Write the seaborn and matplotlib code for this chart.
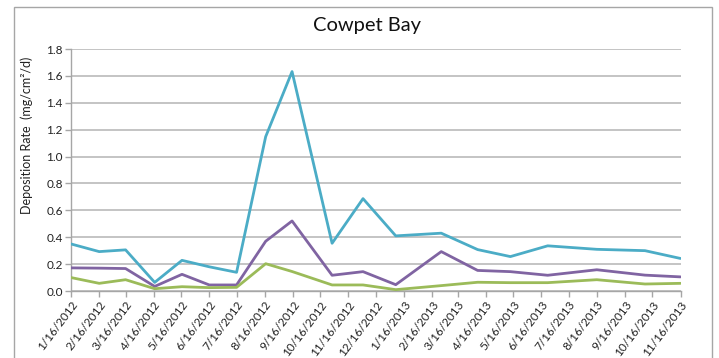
import matplotlib
matplotlib.use("Agg")
import matplotlib.pyplot as plt
from matplotlib.patches import Rectangle
import seaborn as sns
import pandas as pd

# ---- data ----
dates = ["2012-01-16", "2012-02-16", "2012-03-16", "2012-04-17", "2012-05-17",
         "2012-06-16", "2012-07-16", "2012-08-17", "2012-09-15", "2012-10-29",
         "2012-12-02", "2013-01-07", "2013-02-26", "2013-04-07", "2013-05-13",
         "2013-06-23", "2013-08-16", "2013-10-08", "2013-11-16"]
series_a = [0.35, 0.293, 0.306, 0.064, 0.228, 0.18, 0.139, 1.148, 1.632, 0.355,
            0.687, 0.41, 0.43, 0.308, 0.256, 0.336, 0.31, 0.30, 0.242]
series_b = [0.172, 0.170, 0.167, 0.034, 0.124, 0.045, 0.045, 0.37, 0.521, 0.117,
            0.144, 0.047, 0.293, 0.153, 0.144, 0.117, 0.158, 0.118, 0.105]
series_c = [0.10, 0.057, 0.084, 0.017, 0.032, 0.025, 0.027, 0.203, 0.145, 0.045,
            0.045, 0.01, 0.04, 0.065, 0.062, 0.062, 0.084, 0.052, 0.057]
series_names = ["A", "B", "C"]
colors = ["#4BACC6", "#8064A2", "#9BBB59"]
tick_dates = pd.date_range("2012-01-01", "2013-11-01", freq="MS") + pd.Timedelta(days=15)
title = "Cowpet Bay"
ylabel = "Deposition Rate  (mg/cm\u00b2/d)"
yticks = [0.0, 0.2, 0.4, 0.6, 0.8, 1.0, 1.2, 1.4, 1.6, 1.8]

rows = []
for name, vals in zip(series_names, [series_a, series_b, series_c]):
    for d, v in zip(dates, vals):
        rows.append({"date": pd.Timestamp(d), "value": v, "series": name})
df = pd.DataFrame(rows)

sns.set_style("white")
plt.rcParams["font.family"] = ["Lato", "DejaVu Sans"]

fig = plt.figure(figsize=(7.19, 3.58), dpi=100)
ax = fig.add_axes([71 / 719, 1 - 291 / 358, (680.5 - 71) / 719, (291 - 49) / 358])

sns.lineplot(data=df, x="date", y="value", hue="series", palette=colors,
             linewidth=2.0, ax=ax, legend=False, zorder=3)

ax.set_ylim(0, 1.8)
ax.set_yticks(yticks)
ax.set_yticklabels([f"{t:.1f}" for t in yticks], fontsize=8.5, color="#222222")
ax.set_xlim(pd.Timestamp("2012-01-16"), pd.Timestamp("2013-11-16"))
ax.set_xticks(tick_dates)
ax.set_xticklabels([f"{d.month}/{d.day}/{d.year}" for d in tick_dates],
                   rotation=53, ha="right", rotation_mode="anchor", fontsize=8.5,
                   color="#222222")
ax.set_xlabel("")
ax.set_ylabel("")

ax.grid(axis="y", color="#BFBFBF", linewidth=1.3, zorder=0)
ax.grid(axis="x", visible=False)
for s in ["top", "right"]:
    ax.spines[s].set_visible(False)
for s in ["left", "bottom"]:
    ax.spines[s].set_color("#A6A6A6")
    ax.spines[s].set_linewidth(1.0)
ax.tick_params(axis="both", which="major", length=4, width=1.0, color="#A6A6A6",
               direction="out", bottom=True, left=True, pad=2)

fig.text(367 / 719, 1 - 25 / 358, title, ha="center", va="center", fontsize=14.5,
         color="#111111")
fig.text(27 / 719, 1 - 135 / 358, ylabel, ha="center", va="center",
         rotation=90, fontsize=9, color="#222222")

fig.patches.append(Rectangle((14 / 719, -0.05), (712 - 14) / 719, 1.05 - 7 / 358,
                             transform=fig.transFigure, fill=False,
                             edgecolor="#A6A6A6", linewidth=1.0))

fig.savefig("out.png", dpi=100)
